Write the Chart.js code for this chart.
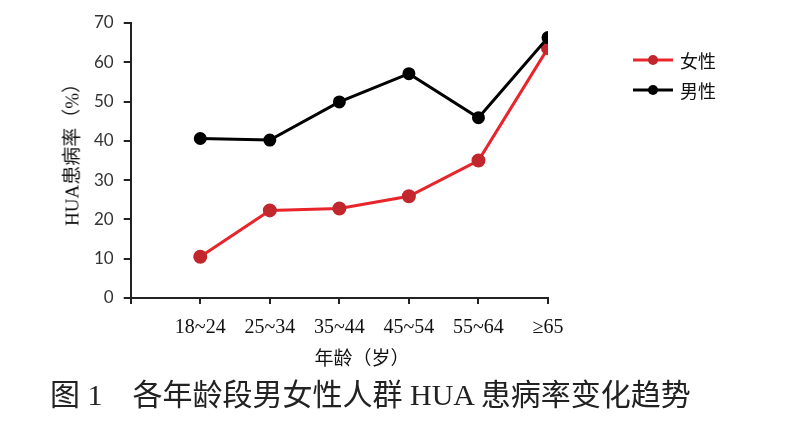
<!DOCTYPE html>
<html>
<head>
<meta charset="utf-8">
<script src="https://cdn.jsdelivr.net/npm/chart.js@4"></script>
<style>
html,body{margin:0;padding:0;background:#fff}
#wrap{position:relative;width:800px;height:431px;overflow:hidden}
#c{position:absolute;left:0;top:0}
.lbl{position:absolute;white-space:pre;font-family:"Liberation Serif","Noto Sans CJK SC",serif;color:#111;line-height:1}
#ytitle{left:72px;top:150px;font-size:19px;transform:translate(-50%,-50%) rotate(-90deg)}
#xtitle{left:362px;top:358px;font-size:19px;transform:translate(-50%,-50%)}
#caption{left:50px;top:380px;font-size:30px;line-height:30px;color:#222}
</style>
</head>
<body>
<div id="wrap">
<canvas id="c" width="800" height="431"></canvas>
<div class="lbl" id="ytitle">HUA患病率（%）</div>
<div class="lbl" id="xtitle">年龄（岁）</div>
<div class="lbl" id="caption">图 1　各年龄段男女性人群 HUA 患病率变化趋势</div>
</div>
<script>
const ageGroups=["18~24","25~34","35~44","45~54","55~64","≥65"];
const female=[10.5,22.3,22.8,25.9,35.0,63.6];
const male=[40.6,40.2,49.9,57.1,45.9,66.3];
const seriesNames=["女性","男性"];
const yMin=0,yMax=70,yStep=10;

const serif='"Liberation Serif","Noto Sans CJK SC",serif';
const cjk='"Noto Sans CJK SC",sans-serif';

function toPoints(arr){
return arr.map((v,i)=>({x:i+1,y:v}));
}

// legend with line + dot, like the original
const lineLegend={
id:"lineLegend",
afterDraw(chart){
const ctx=chart.ctx;
chart.data.datasets.forEach((ds,i)=>{
let y=60+i*30;
ctx.save();
ctx.strokeStyle=ds.borderColor;
ctx.lineWidth=3;
ctx.beginPath();
ctx.moveTo(633,y);
ctx.lineTo(673,y);
ctx.stroke();
ctx.fillStyle=ds.pointBackgroundColor;
ctx.beginPath();
ctx.arc(653,y,5,0,Math.PI*2);
ctx.fill();
ctx.fillStyle="#111";
ctx.font="18px "+cjk;
ctx.textBaseline="middle";
ctx.fillText(ds.label,680,y+1);
ctx.restore();
});
}
};

new Chart(document.getElementById("c"),{
type:"line",
data:{
datasets:[
{
label:seriesNames[0],
data:toPoints(female),
borderColor:"#e8252b",
backgroundColor:"#c1272d",
pointBackgroundColor:"#c1272d",
pointBorderColor:"#c1272d",
borderWidth:3,
pointRadius:5.5,
order:1
},
{
label:seriesNames[1],
data:toPoints(male),
borderColor:"#000",
backgroundColor:"#000",
pointBackgroundColor:"#000",
pointBorderColor:"#000",
borderWidth:3,
pointRadius:5,
order:0
}
]
},
options:{
responsive:false,
animation:false,
devicePixelRatio:1,
layout:{padding:{left:84,right:252,top:23,bottom:79}},
plugins:{
legend:{display:false},
tooltip:{enabled:false}
},
scales:{
x:{
type:"linear",
min:0,
max:ageGroups.length,
ticks:{
stepSize:1,
autoSkip:false,
color:"#111",
font:{family:serif,size:20},
padding:12,
callback:v=>v>=1?ageGroups[v-1]:""
},
grid:{drawOnChartArea:false,drawTicks:true,tickLength:6,color:"#222",lineWidth:2},
border:{color:"#222",width:2}
},
y:{
min:yMin,
max:yMax,
ticks:{stepSize:yStep,color:"#333",font:{family:"Lato,sans-serif",size:17},padding:10},
grid:{drawOnChartArea:false,drawTicks:true,tickLength:7,color:"#222",lineWidth:2},
border:{color:"#222",width:2}
}
}
},
plugins:[lineLegend]
});
</script>
</body>
</html>
